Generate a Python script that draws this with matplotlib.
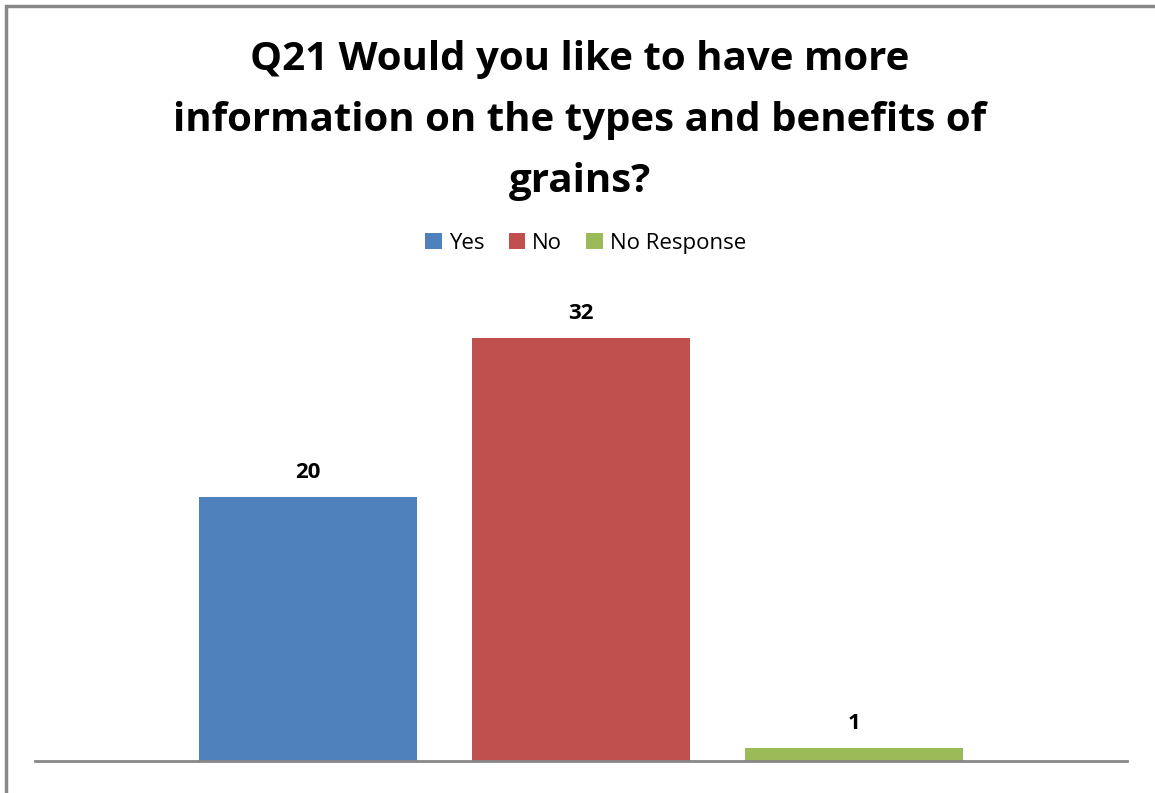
import matplotlib.pyplot as plt
from matplotlib.patches import Rectangle

# Survey answers
categories = ["Yes", "No", "No Response"]
counts = [20, 32, 1]
colors = ["#4F81BD", "#C0504D", "#9BBB59"]
title = "Q21 Would you like to have more\ninformation on the types and benefits of\ngrains?"

plt.rcParams['font.family'] = ['Open Sans', 'DejaVu Sans']

fig = plt.figure(figsize=(11.55, 7.93), dpi=100)
ax = fig.add_axes([0.0303, 0.0404, 0.9455, 0.583])

x = list(range(len(categories)))
bars = ax.bar(x, counts, width=0.8, color=colors, label=categories)
for xi, c in zip(x, counts):
    ax.annotate(str(c), (xi, c), xytext=(0, 10), textcoords="offset points",
                ha="center", va="bottom", fontsize=16, fontweight="bold")

ax.set_xlim(-1.0, 3.0)
ax.set_ylim(0, 35)
for s in ["top", "right", "left"]:
    ax.spines[s].set_visible(False)
ax.spines["bottom"].set_color("#888888")
ax.spines["bottom"].set_linewidth(2)
ax.set_xticks([])
ax.set_yticks([])

fig.text(0.502, 0.949, title, ha="center", va="top", fontsize=29,
         fontweight="bold", linespacing=1.73)

fig.legend(handles=bars, labels=categories, loc="center", bbox_to_anchor=(0.507, 0.693),
           ncol=3, frameon=False, fontsize=16, handlelength=0.75, handleheight=0.75,
           handletextpad=0.3, columnspacing=1.1)

# outer frame
fig.patches.append(Rectangle((0.0055, -0.05), 1.2, 1.043, transform=fig.transFigure,
                             fill=False, edgecolor="#888888", linewidth=2.5))

fig.savefig("out.png", dpi=100)
